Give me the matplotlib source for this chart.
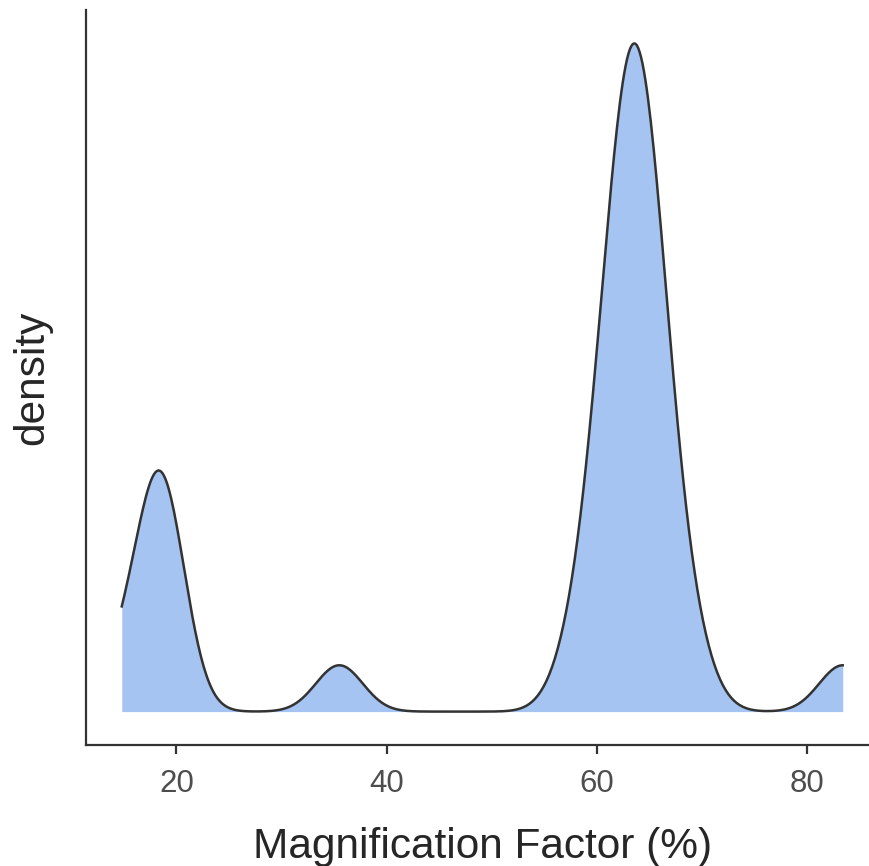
import matplotlib
matplotlib.use("Agg")
import matplotlib.pyplot as plt
import numpy as np

plt.rcParams["font.family"] = ["Liberation Sans", "DejaVu Sans"]

# magnification factor samples (%)
low_group = [14.8, 18.0, 18.3, 18.5, 18.8, 19.0]
mid_group = [35.5]
main_group = [58, 60, 61, 61, 62, 62, 62, 63, 63, 63, 64, 64, 64, 64,
              65, 65, 65, 66, 66, 67, 69]
high_group = [83.4]
bandwidth = 2.23

values = np.array(low_group + mid_group + main_group + high_group, dtype=float)

# gaussian kde over the data range (like geom_density)
xs = np.linspace(values.min(), values.max(), 512)
dens = np.exp(-0.5 * ((xs[:, None] - values[None, :]) / bandwidth) ** 2).sum(axis=1)
dens = dens / (len(values) * bandwidth * np.sqrt(2 * np.pi))

fig = plt.figure(figsize=(8.7, 8.66), dpi=100)
span = values.max() - values.min()
xlo = values.min() - 0.05 * span
xhi = values.max() + 0.05 * span
ax = fig.add_axes([85.7 / 870, 121 / 866, (xhi - xlo) * 10.51 / 870, 735 / 866])

ax.fill_between(xs, 0, dens, color="#a6c4f1", linewidth=0)
ax.plot(xs, dens, color="#333333", linewidth=1.8)

ax.set_xlim(xlo, xhi)
ax.set_ylim(-0.05 * dens.max(), 1.05 * dens.max())
ax.set_xticks([20, 40, 60, 80])
ax.set_yticks([])

for s in ["top", "right"]:
    ax.spines[s].set_visible(False)
for s in ["left", "bottom"]:
    ax.spines[s].set_color("#333333")
    ax.spines[s].set_linewidth(1.6)

ax.tick_params(axis="x", length=6.5, width=1.6, color="#333333",
               labelsize=22.5, labelcolor="#4d4d4d", pad=11)
ax.set_xlabel("Magnification Factor (%)", fontsize=30.5, color="#262626", labelpad=20)
ax.set_ylabel("density", fontsize=30.5, color="#262626", labelpad=24)

fig.savefig("out.png", dpi=100)
